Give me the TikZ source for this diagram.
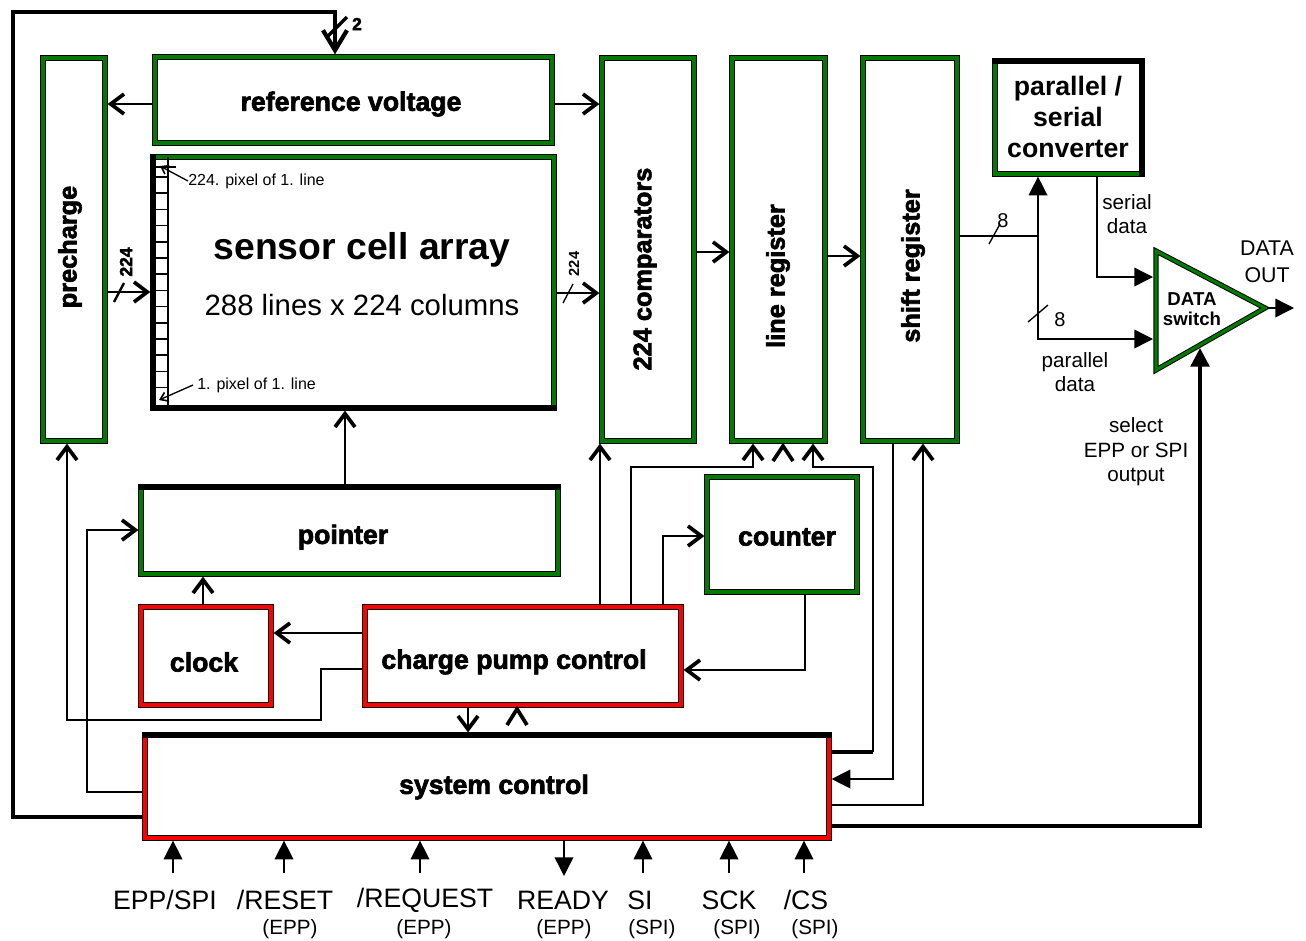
\documentclass[tikz,border=0pt]{standalone}
\usepackage{fontspec}
\setmainfont{Liberation Sans}
\newfontfamily\heavy[FakeBold=2.5]{Liberation Sans Bold}
\usetikzlibrary{arrows.meta,calc}
\definecolor{gr}{RGB}{0,122,0}
\begin{document}
\begin{tikzpicture}[x=0.75pt,y=-0.75pt,
  gbox/.style={draw=black,double=gr,line width=0.75pt,double distance=2.4pt,outer sep=1.95pt,inner sep=0pt},
  rbox/.style={draw=black,double=red,line width=0.75pt,double distance=2.4pt,outer sep=1.95pt,inner sep=0pt},
  sz/.style 2 args={minimum width=#1*0.75pt,minimum height=#2*0.75pt},
  hv/.style={font=\heavy\fontsize{20}{24}\selectfont,inner sep=0pt},
  hvr/.style={font=\heavy\fontsize{19}{23}\selectfont,inner sep=0pt,rotate=90},
  edgeblk/.style={line width=3.9pt,line cap=rect},
  thn/.style={line width=1pt},
  md/.style={line width=1.8pt},
  thk/.style={line width=2.6pt},
  oa/.style={-{Straight Barb[length=10pt,width=15pt,line width=2.8pt]}},
  oabig/.style={-{Straight Barb[length=15pt,width=18pt,line width=3.2pt]}},
  fa/.style={-{Triangle[length=14pt,width=14pt]}},
  sm/.style={font=\fontsize{12}{14}\selectfont,inner sep=0pt},
  lab/.style={font=\fontsize{20}{24}\selectfont,inner sep=0pt},
  sub/.style={font=\fontsize{15.5}{18}\selectfont,inner sep=0pt},
  mid15/.style={font=\fontsize{15.5}{18.4}\selectfont,inner sep=0pt,align=center},
]
\useasboundingbox (0,0) rectangle (1306,940);

% ---------- blocks ----------
\node[gbox,sz={62}{383}] (pre) at (74,249.5) {};
\node[gbox,sz={397}{86}] (ref) at (353.5,100) {};
\node[gbox,sz={401}{251}] (sen) at (353.5,282.5) {};
\node[gbox,sz={92}{383}] (cmp) at (648,249.5) {};
\node[gbox,sz={93}{383}] (lr) at (778.5,249.5) {};
\node[gbox,sz={94}{383}] (sr) at (910,249.5) {};
\node[gbox,sz={147}{113}] (conv) at (1068.5,117.5) {};
\node[gbox,sz={417}{87}] (pt) at (349.5,530.5) {};
\node[rbox,sz={130}{98}] (clk) at (206,656) {};
\node[rbox,sz={316}{98}] (cp) at (523,656) {};
\node[gbox,sz={150}{115}] (ctr) at (782,534.5) {};
\node[rbox,sz={684}{103}] (sys) at (487,786.5) {};

% black edges (no coloured strip)
\draw[edgeblk] ([shift={(1.95pt,-1.95pt)}]pt.north west) -- ([shift={(-1.95pt,-1.95pt)}]pt.north east);
\draw[edgeblk] ([shift={(1.95pt,-1.95pt)}]conv.north west) -- ([shift={(-1.95pt,-1.95pt)}]conv.north east) -- ([shift={(-1.95pt,1.95pt)}]conv.south east);
\draw[edgeblk] ([shift={(1.95pt,-1.95pt)}]sys.north west) -- ([shift={(-1.95pt,-1.95pt)}]sys.north east);
\draw[edgeblk] ([shift={(1.95pt,-1.95pt)}]sen.north west) -- ([shift={(1.95pt,1.95pt)}]sen.south west) -- ([shift={(-1.95pt,1.95pt)}]sen.south east);

% pixel column strip of the sensor array
\draw[line width=1.2pt] (168,157) -- (168,408);
\foreach \k in {0,...,13} \draw[line width=1.2pt] (153,{177+16.2*\k}) -- (168,{177+16.2*\k});
\draw[line width=1.2pt] (155,167) -- (176,167);

% DATA switch triangle
\draw[draw=black,double=gr,line width=0.75pt,double distance=2.4pt] (1156,251) -- (1265,308) -- (1156,370) -- cycle;
\coordinate (swin1) at (1153,277);
\coordinate (swin2) at (1153,339);
\coordinate (swbot) at (1200,348);
\coordinate (swout) at (1267,308);
\coordinate (dout) at (1294,308);

% ---------- texts ----------
\node[hv] (reft) at (351,104) {reference voltage};
\node[hvr] (pret) at (70,247) {precharge};
\node[hvr] (cmpt) at (645,269) {224 comparators};
\node[hvr] (lrt) at (778,276) {line register};
\node[hvr] (srt) at (913,266) {shift register};
\node[hv] (ptt) at (343,537) {pointer};
\node[hv] (clkt) at (204,662) {clock};
\node[hv] (cpt) at (514,662) {charge pump control};
\node[hv] (ctrt) at (787,537) {counter};
\node[hv] (syst) at (494,787) {system control};
\node[font=\bfseries\fontsize{20}{23}\selectfont,align=center,inner sep=0pt] (convt) at (1068,117) {parallel /\\serial\\converter};
\node[font=\bfseries\fontsize{28}{32}\selectfont,inner sep=0pt] (sent1) at (362,250) {sensor cell array};
\node[font=\fontsize{22}{26}\selectfont,inner sep=0pt] (sent2) at (362,305) {288 lines x 224 columns};
\node[sm,anchor=west] (p224) at (188,181) {224. pixel of 1. line};
\node[sm,anchor=west] (p1) at (197,385) {1. pixel of 1. line};
\node[font=\bfseries\fontsize{14}{14.5}\selectfont,align=center,inner sep=0pt] (swt) at (1192,309) {DATA\\switch};
\node[font=\fontsize{16}{20}\selectfont,align=center,inner sep=0pt] (doutt) at (1267,262) {DATA\\OUT};
\node[mid15] (sdat) at (1127,214) {serial\\data};
\node[mid15] (pdat) at (1075,372) {parallel\\data};
\node[mid15] (selt) at (1136,452) {select\\EPP or SPI\\output};
\node[font=\fontsize{15}{18}\selectfont,inner sep=0pt] (n8a) at (1003,221) {8};
\node[font=\fontsize{15}{18}\selectfont,inner sep=0pt] (n8b) at (1060,320) {8};
\node[font=\heavy\fontsize{13}{13}\selectfont,inner sep=0pt] (n2) at (357,24) {2};
\node[font=\heavy\fontsize{13}{13}\selectfont,inner sep=0pt,rotate=90] (n224a) at (126,262) {224};
\node[font=\bfseries\fontsize{11}{11}\selectfont,inner sep=0pt,rotate=90] (n224b) at (574,264) {224};

% pixel arrows
\draw[thn,-{Straight Barb[length=5pt,width=7pt,line width=1.2pt]}] (p224.west) -- (160,166);
\draw[thn,-{Straight Barb[length=5pt,width=7pt,line width=1.2pt]}] ([xshift=-3pt]p1.west) -- (159,400);

% ---------- connectors ----------
\coordinate (lt) at (13,12);
\draw[thk,oabig] (sys.west |- 0,817) -| (lt) -| (ref.north -| 335,0);
\draw[thk] (326,38) -- (347,17);

\draw[md,oa] (ref.west |- 0,104) -- (pre.east |- 0,104);
\draw[md,oa] (ref.east |- 0,104) -- (cmp.west |- 0,104);
\draw[md,oa] (pre.east |- 0,292) -- (sen.west |- 0,292);
\draw[md] (114,302) -- (124,283);
\draw[md,oa] (sen.east |- 0,293) -- (cmp.west |- 0,293);
\draw[thn] (563,303) -- (573,284);
\draw[md,oa] (cmp.east |- 0,252) -- (lr.west |- 0,252);
\draw[md,oa] (lr.east |- 0,256) -- (sr.west |- 0,256);

\coordinate (j) at (1038,236);
\draw[thn] (sr.east |- j) -- (j);
\draw[thn,fa] (j) -- (j |- conv.south);
\draw[thn,fa] (j) |- (swin2);
\draw[thn] (989,244) -- (1000,224);
\draw[thn] (1028,322) -- (1048,305);
\draw[thn,fa] (conv.south -| 1097,0) |- (swin1);
\draw[thn,fa] (swout) -- (dout);
\draw[thk,fa] (sys.east |- 0,826) -| (swbot);

\draw[thn,oa] (pt.north -| 345,0) -- (sen.south -| 345,0);
\draw[thn,oa] (clk.north -| 203,0) -- (pt.south -| 203,0);
\draw[md,oa] (cp.west |- 0,633) -- (clk.east |- 0,633);
\draw[thn,oa] (cp.west |- 0,669) -| (321,720) -| (pre.south -| 67,0);
\draw[thn,oa] (sys.west |- 0,792) -| (87,530) -- (pt.west |- 0,530);
\draw[thn,oa] (cp.south -| 468,0) -- (sys.north -| 468,0);
\draw[line width=2.8pt] (507,725) -- (517,709) -- (527,725);

\draw[thn,oa] (cp.north -| 600,0) -- (cmp.south -| 600,0);
\draw[thn,oa] (cp.north -| 631,0) |- (753,467) -- (lr.south -| 753,0);
\draw[line width=2.8pt] (773,461) -- (783,446) -- (793,461);
\draw[thk] (sys.east |- 0,752) -- (873,752);
\draw[thn,oa] (873,752) |- (813,467) -- (lr.south -| 813,0);
\draw[md,oa] (cp.north -| 663,0) |- (ctr.west |- 0,536);
\draw[md,oa] (ctr.south -| 805,0) |- (cp.east |- 0,670);
\draw[thn,fa] (sr.south -| 893,0) |- (sys.east |- 0,779);
\draw[thn,oa] (sys.east |- 0,805) -| (sr.south -| 923,0);

% ---------- bottom signals ----------
\node[lab] (i1) at (165,900) {EPP/SPI};
\node[lab] (i2) at (285,900) {/RESET};
\node[lab] (i3) at (425,900) {/REQUEST};
\node[lab] (i4) at (563,900) {READY};
\node[lab] (i5) at (640,900) {SI};
\node[lab] (i6) at (729,900) {SCK};
\node[lab] (i7) at (806,900) {/CS};
\node[sub] (s2) at (290,929) {(EPP)};
\node[sub] (s3) at (424,929) {(EPP)};
\node[sub] (s4) at (564,929) {(EPP)};
\node[sub] (s5) at (652,929) {(SPI)};
\node[sub] (s6) at (737,929) {(SPI)};
\node[sub] (s7) at (815,929) {(SPI)};
\coordinate (c1) at (173,873);
\coordinate (c2) at (284,873);
\coordinate (c3) at (420,873);
\coordinate (c4) at (564,876);
\coordinate (c5) at (643,873);
\coordinate (c6) at (729,873);
\coordinate (c7) at (804,873);
\draw[thn,fa] (c1) -- (sys.south -| c1);
\draw[thn,fa] (c2) -- (sys.south -| c2);
\draw[thn,fa] (c3) -- (sys.south -| c3);
\draw[thn,fa] (sys.south -| c4) -- (c4);
\draw[thn,fa] (c5) -- (sys.south -| c5);
\draw[thn,fa] (c6) -- (sys.south -| c6);
\draw[thn,fa] (c7) -- (sys.south -| c7);
\end{tikzpicture}
\end{document}
